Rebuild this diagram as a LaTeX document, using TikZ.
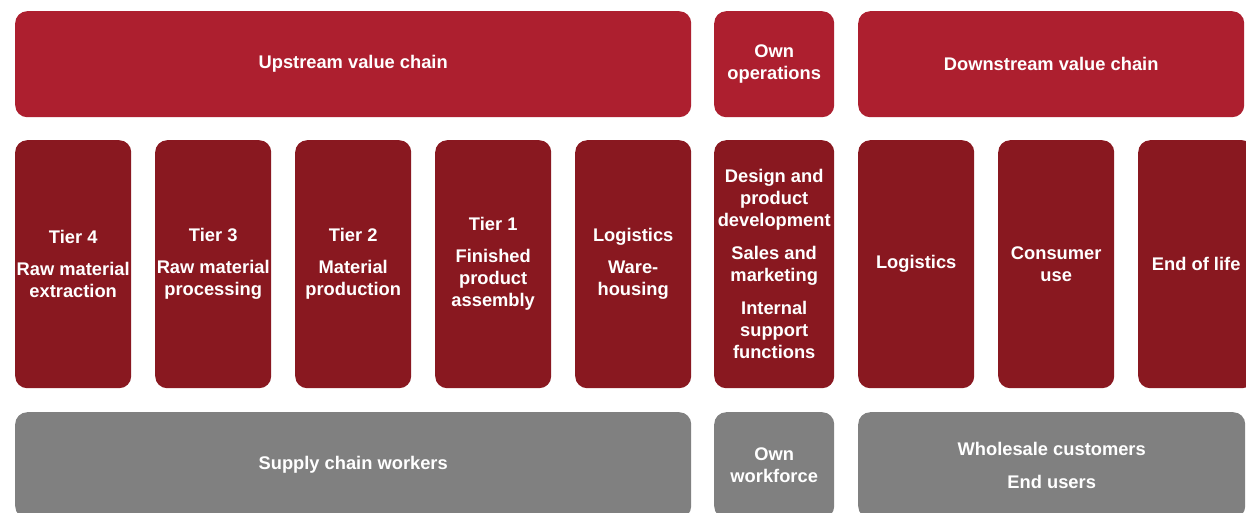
\documentclass[tikz,border=0pt]{standalone}
\usepackage{fontspec}
\setmainfont{Liberation Sans}
\definecolor{chainred}{HTML}{AD1F2F}
\definecolor{stepred}{HTML}{891820}
\definecolor{peoplegray}{HTML}{808080}
\begin{document}
\begin{tikzpicture}[x=1pt,y=-1pt,
  box/.style={rounded corners=12pt, inner sep=0pt, anchor=north west,
    text=white, align=center,
    font=\bfseries\fontsize{18.3}{22}\selectfont},
  headbox/.style={box, fill=chainred, minimum height=106pt},
  stagebox/.style={box, fill=stepred, minimum width=116pt, minimum height=248pt},
  peoplebox/.style={box, fill=peoplegray, minimum height=106pt}]
\useasboundingbox (0,0) rectangle (1246,512);
\clip (0,0) rectangle (1246,512);
\fill[white] (0,0) rectangle (1246,512);

% header row
\node[headbox, minimum width=676pt] (up) at (15,11) {Upstream value chain};
\node[headbox, minimum width=120pt] (own) at (714,11) {Own\\operations};
\node[headbox, minimum width=386pt] (down) at (858,11) {Downstream value chain};

% value chain stages
\node[stagebox] (t4) at (15,140) {Tier 4\\[10pt]Raw material\\extraction};
\node[stagebox] (t3) at (155,140) {Tier 3\\[10pt]Raw material\\processing};
\node[stagebox] (t2) at (295,140) {Tier 2\\[10pt]Material\\production};
\node[stagebox] (t1) at (435,140) {Tier 1\\[10pt]Finished\\product\\assembly};
\node[stagebox] (lup) at (575,140) {Logistics\\[10pt]Ware-\\housing};
\node[stagebox, minimum width=120pt] (ops) at (714,140)
  {Design and\\product\\development\\[11pt]Sales and\\marketing\\[11pt]Internal\\support\\functions};
\node[stagebox] (ldown) at (858,140) {Logistics};
\node[stagebox] (use) at (998,140) {Consumer\\use};
\node[stagebox] (eol) at (1138,140) {End of life};

% affected people
\node[peoplebox, minimum width=676pt] (sup) at (15,412) {Supply chain workers};
\node[peoplebox, minimum width=120pt] (wf) at (714,412) {Own\\workforce};
\node[peoplebox, minimum width=387pt] (cust) at (858,412) {Wholesale customers\\[11pt]End users};
\end{tikzpicture}
\end{document}
